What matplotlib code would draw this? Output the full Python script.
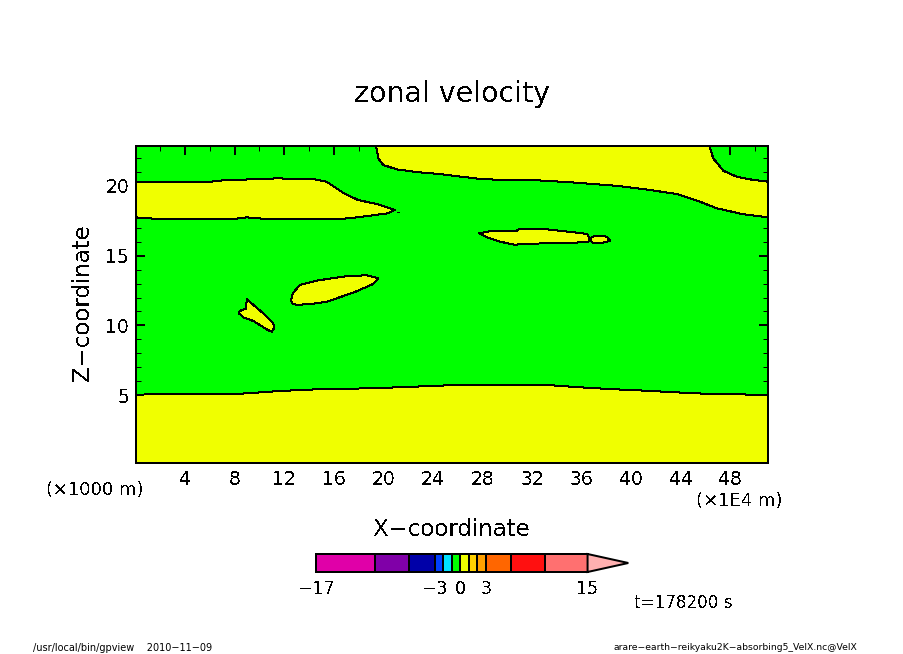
import numpy as np
import matplotlib
matplotlib.use('Agg')
import matplotlib.pyplot as plt

plt.rcParams['font.family'] = 'DejaVu Sans'
plt.rcParams['text.antialiased'] = False

W, H = 904, 654

#axis limits, x in 1E4 m and z in 1000 m
xmin, xmax = 0.04, 51.05
ymin, ymax = 0.15, 22.85

xticks_major = np.arange(4, 49, 4)
xticks_minor = np.arange(2, 51, 2)
yticks_major = [5, 10, 15, 20]
yticks_minor = np.arange(1, 23, 1)

#outlines of the 0 m/s contour
low_x = [8.59, 10.31, 11.68, 14.75, 18.96, 21.52, 23.40, 25.42, 33.51, 35.67, 38.63, 41.59, 45.07, 47.39]
low_y = [5.12, 5.22, 5.31, 5.43, 5.50, 5.58, 5.65, 5.72, 5.72, 5.58, 5.43, 5.31, 5.14, 5.08]

mid_x = [5.45, 7.06, 11.40, 14.33, 15.43, 16.75, 17.96, 19.47, 20.94,
         20.38, 17.85, 16.24, 10.86, 8.98, 7.87, 2.52, 0.61]
mid_y = [20.24, 20.39, 20.53, 20.48, 20.29, 19.51, 18.98, 18.70, 18.27,
         18.03, 17.74, 17.60, 17.60, 17.74, 17.62, 17.60, 17.69]
mid_left_y = [17.74, 20.24]

top_x = [19.41, 19.60, 20.00, 21.08, 22.70, 24.58, 28.07, 32.11, 35.33, 38.84,
         41.53, 43.68, 45.56, 46.91, 49.06]
top_y = [22.85, 21.97, 21.49, 21.18, 20.98, 20.84, 20.46, 20.41, 20.24, 20.00,
         19.70, 19.41, 18.86, 18.39, 17.96]
top_right_y = [17.74, 20.29]
corner_x = [49.60, 48.52, 47.44, 46.63, 46.31]
corner_y = [20.46, 20.65, 21.08, 21.97, 22.85]

blob_a_x = [12.57, 12.69, 13.28, 14.62, 16.77, 18.66, 19.60, 19.19, 17.58, 15.43, 14.35, 13.01, 12.63]
blob_a_y = [11.82, 12.31, 12.90, 13.21, 13.50, 13.60, 13.38, 12.97, 12.35, 11.70, 11.56, 11.47, 11.59]

blob_b_x = [8.98, 9.51, 10.31, 11.12, 11.20, 10.99, 10.59, 9.51, 8.70, 8.30, 8.57, 8.92]
blob_b_y = [11.87, 11.47, 10.87, 10.15, 9.84, 9.55, 9.72, 10.32, 10.58, 10.91, 11.11, 11.20]

blob_c_x = [27.72, 28.88, 30.77, 31.03, 32.91, 35.07, 36.46, 36.63, 36.55, 34.80, 31.03, 30.71, 29.42, 28.35]
blob_c_y = [16.60, 16.79, 16.79, 16.93, 16.91, 16.70, 16.55, 16.24, 16.00, 15.88, 15.86, 15.76, 16.00, 16.32]

blob_d_x = [36.74, 36.82, 37.22, 38.03, 38.30, 37.76, 36.95]
blob_d_y = [16.07, 16.32, 16.43, 16.36, 16.07, 15.93, 15.88]

speck_x = [21.10, 21.27]
speck_y = [18.10, 18.10]

#colour bar
levels = [-17, -10, -6, -3, -2, -1, 0, 1, 2, 3, 6, 10, 15]
level_colors = ['#E000A8', '#8000A8', '#0000A8', '#0040FF', '#00E0FF', '#00FF00',
                '#F0FF00', '#FFD000', '#FFA000', '#FF6600', '#FF1010', '#FF7070']
over_color = '#FFB0B0'
over_tip = 19.8
bar_ticks = [-17, -3, 0, 3, 15]

GREEN = '#00FF00'
YELLOW = '#F0FF00'
PX = 0.72  # one pixel in points at dpi 100


def axes_box(left, top, right, bottom):
    return [left / W, 1 - bottom / H, (right - left) / W, (bottom - top) / H]


def label(x, y, s, size, **kw):
    kw.setdefault('ha', 'center')
    fig.text(x / W, 1 - y / H, s, fontsize=size, va='center', **kw)


def blob(xs, ys):
    ax.fill(xs, ys, fc=YELLOW, ec='k', lw=PX, antialiased=False, zorder=2)


fig = plt.figure(figsize=(W / 100, H / 100), dpi=100, facecolor='white')
ax = fig.add_axes(axes_box(136, 146, 768, 463), facecolor=GREEN)

blob([xmin] + low_x + [xmax, xmax, xmin], [low_y[0] - 0.07, *low_y, 5.03, ymin, ymin])
blob(mid_x + [xmin, xmin], mid_y + mid_left_y)
blob(top_x + [xmax, xmax] + corner_x, top_y + top_right_y + corner_y)
blob(blob_a_x, blob_a_y)
blob(blob_b_x, blob_b_y)
blob(blob_c_x, blob_c_y)
blob(blob_d_x, blob_d_y)
ax.plot(speck_x, speck_y, color='k', lw=PX, antialiased=False, zorder=2)

ax.set_xlim(xmin, xmax)
ax.set_ylim(ymin, ymax)
ax.set_xticks(xticks_major)
ax.set_xticks(xticks_minor, minor=True)
ax.set_yticks(yticks_major)
ax.set_yticks(yticks_minor, minor=True)
ax.tick_params(which='major', direction='in', top=True, right=True, length=9 * PX, width=2 * PX,
               labelsize=13.5, pad=5)
ax.tick_params(which='minor', direction='in', top=True, right=True, length=5 * PX, width=PX)
for side in ax.spines.values():
    side.set_linewidth(2 * PX)
    side.set_zorder(5)

label(452, 94, 'zonal velocity', 20.5)
label(452, 529, 'X\u2212coordinate', 16.5)
label(83, 303, 'Z\u2212coordinate', 16.5, rotation=90)
label(95, 490, '(\u00d71000 m)', 12.9)
label(739, 501, '(\u00d71E4 m)', 13)
label(683, 603, 't=178200 s', 12.1)
#small print loses strokes when not antialiased
label(33, 648, '/usr/local/bin/gpview    2010\u221211\u221209', 7, ha='left', antialiased=True)
label(857, 648, 'arare\u2212earth\u2212reikyaku2K\u2212absorbing5_VelX.nc@VelX', 6.7, ha='right',
      antialiased=True)

#colour bar, linear in velocity
cax = fig.add_axes(axes_box(316, 554, 628.3, 572))
cax.set_xlim(levels[0], over_tip)
cax.set_ylim(0, 1)
cax.barh(0.5, np.diff(levels), height=1, left=levels[:-1], color=level_colors,
         edgecolor='k', linewidth=2 * PX, antialiased=False, clip_on=False)
cax.fill([levels[-1], over_tip, levels[-1]], [0, 0.5, 1], fc=over_color, ec='k', lw=2 * PX,
         clip_on=False)
cax.set_yticks([])
cax.set_xticks(bar_ticks)
cax.set_xticklabels([str(t).replace('-', '\u2212') for t in bar_ticks])
cax.tick_params(axis='x', length=0, labelsize=12.5, pad=6)
for side in cax.spines.values():
    side.set_visible(False)

fig.savefig('out.png', dpi=100)
